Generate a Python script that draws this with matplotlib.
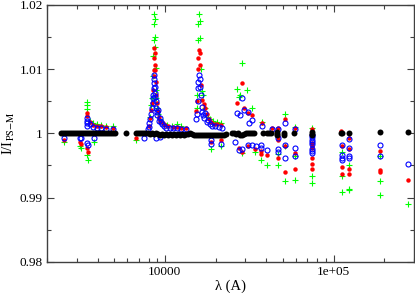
import matplotlib
matplotlib.use("Agg")
import matplotlib.pyplot as plt
from matplotlib.ticker import FixedLocator, FixedFormatter, LogLocator, NullFormatter, MultipleLocator

plt.rcParams['font.family'] = ['Liberation Serif', 'DejaVu Serif']
plt.rcParams['mathtext.fontset'] = 'stix'

# wavelength (A) and intensity ratio for each series
black_lam = [
    2415, 2482, 2550, 2621, 2693, 2767, 2844, 2922, 3003, 3086, 3171, 3259, 3349, 3441,
    3536, 3634, 3734, 3838, 3944, 4053, 4165, 4280, 4398, 4519, 4644, 4773, 4905, 5040,
    5855,
    6710, 6895, 7086, 7282, 7483, 7690, 7902, 8121, 8345, 8576, 8813, 9056, 9306, 9564,
    9828, 10100, 10379, 10666, 10961, 11264, 11575, 11895, 12223, 12561, 12908, 13265,
    13632, 14008, 14395, 14793, 15202, 15622, 16054, 16498, 16954, 17422, 17904, 18399,
    18907, 19430, 19967, 20519, 21086, 21668, 22267, 22883,
    25140, 25830, 26540, 27280, 28030, 28810, 29600, 30420, 31260, 32120, 33010, 33920,
    38380, 40550, 41700, 42790, 46440, 46440, 46440, 51060, 51060, 58500,
    74850, 74850, 74850, 110500, 112500, 123900, 189000, 276600,
]
black_val = [
    1.0000, 1.0000, 1.0000, 1.0000, 1.0000, 1.0000, 1.0000, 1.0000, 1.0000, 1.0000, 1.0000, 1.0000, 1.0000, 1.0000,
    1.0000, 1.0000, 1.0000, 1.0000, 1.0000, 1.0000, 1.0000, 1.0000, 1.0000, 1.0000, 1.0000, 1.0000, 1.0000, 1.0000,
    1.0000,
    1.0000, 1.0000, 1.0000, 1.0000, 1.0000, 1.0000, 1.0000, 0.9999, 1.0000, 0.9999, 1.0000, 0.9999, 0.9998, 0.9999,
    0.9998, 0.9999, 0.9998, 0.9999, 0.9998, 0.9999, 0.9998, 0.9999, 0.9998, 0.9999, 0.9998, 0.9999,
    0.9999, 1.0000, 0.9999, 0.9998, 0.9997, 0.9998, 0.9997, 0.9998, 0.9997, 0.9998, 0.9997, 0.9998,
    0.9997, 0.9998, 0.9997, 0.9998, 0.9997, 0.9998, 0.9998, 0.9999,
    1.0000, 1.0000, 0.9999, 1.0000, 0.9998, 0.9997, 0.9999, 1.0000, 1.0000, 1.0000, 1.0000, 1.0000,
    1.0000, 1.0000, 1.0000, 1.0000, 1.0002, 0.9999, 0.9997, 1.0001, 0.9998, 1.0000,
    1.0002, 0.9999, 0.9997, 1.0000, 1.0000, 1.0000, 1.0002, 1.0002,
]

red_pts = [
    (2515, 0.9990), (3130, 0.9986), (3170, 0.9984), (3440, 1.0031), (3460, 1.0027),
    (3494, 0.9971), (3470, 0.9977), (3580, 1.0018), (3733, 1.0013), (3950, 1.0012),
    (4165, 1.0011), (4459, 1.0010), (4905, 1.0009), (6780, 0.9992),
    (8100, 1.0012), (8200, 1.0024), (8300, 1.0036), (8400, 1.0048), (8480, 1.0068),
    (8560, 1.0090), (8600, 1.0098), (8630, 1.0117), (8660, 1.0133), (8700, 1.0125),
    (8740, 1.0106), (8780, 1.0098), (8820, 1.0080), (8860, 1.0060), (8950, 1.0048),
    (9050, 1.0035), (9200, 1.0026), (9400, 1.0019), (9700, 1.0016), (10000, 1.0013),
    (10500, 1.0011), (11200, 1.0010), (11800, 1.0010), (12500, 1.0009), (13300, 1.0008),
    (15300, 1.0035), (15500, 1.0050), (15700, 1.0100), (15800, 1.0118), (15900, 1.0130),
    (16050, 1.0125), (16250, 1.0106), (16450, 1.0075), (16700, 1.0052), (17000, 1.0045),
    (17400, 1.0040), (17800, 1.0030), (18200, 1.0022), (18800, 1.0018), (19500, 1.0015),
    (20500, 1.0014), (21500, 1.0013), (18640, 0.9987), (21600, 0.9990),
    (26800, 1.0048), (28600, 1.0079), (29400, 1.0039), (31000, 1.0031), (33000, 1.0028),
    (37600, 1.0016), (27500, 0.9977), (28600, 0.9971), (31000, 0.9980), (34000, 0.9975),
    (37300, 0.9972), (37300, 0.9968), (40200, 0.9966),
    (42900, 1.0008), (46700, 1.0008), (46700, 0.9994), (46700, 0.9990), (46700, 0.9961),
    (51200, 1.0023), (51200, 0.9980), (51200, 0.9940), (58700, 1.0009), (58700, 0.9970),
    (58700, 0.9944), (74900, 1.0007), (74900, 0.9985), (74900, 0.9980), (74900, 0.9977),
    (74900, 0.9961), (74900, 0.9952), (74900, 0.9944), (110500, 1.0003), (111500, 0.9980),
    (111500, 0.9948), (111500, 0.9937), (124000, 0.9992), (124000, 0.9975), (124000, 0.9945),
    (124000, 0.9937), (189000, 0.9972), (189000, 0.9943), (189000, 0.9940), (278000, 0.9928),
]

blue_pts = [
    (2515, 0.9993), (3130, 0.9993), (3170, 0.9992), (3440, 1.0024), (3450, 1.0020),
    (3460, 1.0016), (3470, 1.0012), (3494, 0.9982), (3470, 0.9985), (3580, 1.0014),
    (3733, 1.0010), (3790, 0.9993), (3950, 1.0009), (4165, 1.0008), (4459, 1.0007),
    (4905, 1.0007), (7500, 0.9993), (8900, 0.9993), (9300, 0.9994),
    (7900, 1.0006), (8000, 1.0010), (8100, 1.0016), (8200, 1.0022), (8300, 1.0030),
    (8400, 1.0040), (8450, 1.0047), (8500, 1.0055), (8550, 1.0060), (8580, 1.0070),
    (8610, 1.0078), (8640, 1.0084), (8660, 1.0091), (8700, 1.0072), (8740, 1.0063),
    (8780, 1.0057), (8820, 1.0050), (8860, 1.0040), (8920, 1.0034), (9000, 1.0028),
    (9100, 1.0036), (9200, 1.0020), (9300, 1.0024), (9450, 1.0018), (9600, 1.0014),
    (9850, 1.0012), (10200, 1.0009), (10700, 1.0008), (11200, 1.0008), (11800, 1.0008),
    (12500, 1.0007), (13300, 1.0006),
    (15300, 1.0022), (15500, 1.0030), (15650, 1.0050), (15700, 1.0070), (15800, 1.0080),
    (15900, 1.0091), (16050, 1.0085), (16250, 1.0072), (16450, 1.0060), (16550, 1.0033),
    (16700, 1.0041), (16900, 1.0028), (17100, 1.0024), (17400, 1.0031), (17700, 1.0018),
    (18100, 1.0021), (18500, 1.0014), (19000, 1.0012), (19800, 1.0011), (20800, 1.0010),
    (21800, 1.0009), (18640, 0.9990), (18800, 0.9983), (21600, 0.9984),
    (26800, 1.0031), (28000, 1.0028), (28600, 1.0055), (29400, 1.0036), (31000, 1.0034),
    (31500, 1.0016), (33000, 1.0021), (37600, 1.0012),
    (26200, 0.9987), (27500, 0.9974), (28600, 0.9975), (31000, 0.9982), (33000, 0.9982),
    (34500, 0.9980), (37300, 0.9982), (37300, 0.9977), (40200, 0.9974),
    (42900, 1.0006), (46700, 1.0006), (46700, 0.9992), (46700, 0.9975), (46700, 0.9971),
    (51200, 1.0016), (51200, 0.9982), (51200, 0.9961), (58700, 1.0007), (58700, 0.9977),
    (58700, 0.9965), (74900, 0.9997), (74900, 0.9994), (74900, 0.9990), (74900, 0.9987),
    (74900, 0.9983), (74900, 0.9975), (74900, 0.9972), (74900, 0.9969), (111500, 0.9982),
    (111500, 0.9966), (111500, 0.9962), (111500, 0.9959), (124000, 0.9991), (124000, 0.9977),
    (124000, 0.9964), (124000, 0.9962), (189000, 0.9982), (189000, 0.9964), (278000, 0.9953),
]

green_pts = [
    (2515, 0.9987), (3130, 0.9981), (3170, 0.9977), (3440, 1.0049), (3460, 1.0044),
    (3470, 1.0038), (3494, 0.9958), (3470, 0.9967), (3580, 1.0020), (3733, 1.0016),
    (3790, 0.9987), (3950, 1.0014), (4165, 1.0013), (4459, 1.0012), (4905, 1.0011),
    (6780, 0.9990),
    (8150, 1.0025), (8300, 1.0044), (8400, 1.0055), (8480, 1.0090), (8540, 1.0120),
    (8600, 1.0146), (8620, 1.0171), (8640, 1.0186), (8700, 1.0178), (8740, 1.0150),
    (8780, 1.0135), (8800, 1.0102), (8820, 1.0067), (8900, 1.0055), (9000, 1.0040),
    (9150, 1.0030), (9400, 1.0022), (9800, 1.0016), (10300, 1.0013), (11000, 1.0012),
    (11800, 1.0014), (12500, 1.0011),
    (15400, 1.0040), (15600, 1.0060), (15700, 1.0146), (15800, 1.0171), (15900, 1.0186),
    (16050, 1.0175), (16250, 1.0148), (16350, 1.0101), (16550, 1.0066), (16800, 1.0060),
    (17400, 1.0039), (17900, 1.0025), (18400, 1.0022), (19300, 1.0020), (20500, 1.0018),
    (21500, 1.0016), (18640, 0.9975), (21600, 0.9980),
    (26800, 1.0069), (27400, 1.0057), (27700, 1.0060), (28600, 1.0109), (30600, 1.0067),
    (33000, 1.0039), (37600, 1.0018),
    (28600, 0.9970), (34000, 0.9971), (37300, 0.9958), (40200, 0.9951),
    (46700, 0.9968), (46700, 0.9950), (51200, 1.0030), (51200, 0.9980), (51200, 0.9926),
    (58700, 1.0010), (58700, 0.9965), (58700, 0.9928), (74900, 1.0008), (74900, 0.9934),
    (74900, 0.9922), (111500, 0.9971), (111500, 0.9934), (111500, 0.9908), (124000, 0.9951),
    (124000, 0.9914), (124000, 0.9912), (189000, 0.9964), (189000, 0.9925), (189000, 0.9904),
    (278000, 0.9890),
]


def split(pts):
    return [p[0] for p in pts], [p[1] for p in pts]


fig = plt.figure(figsize=(4.15, 2.93), dpi=100)
ax = fig.add_axes([0.1133, 0.1068, 0.8843, 0.8762])

x, y = split(green_pts)
ax.plot(x, y, ls='none', marker='+', ms=4.5, mew=0.8, color='#00ff00', zorder=2)
x, y = split(red_pts)
ax.plot(x, y, ls='none', marker='o', ms=3.2, mew=0, color='#ff0000', zorder=3)
x, y = split(blue_pts)
ax.plot(x, y, ls='none', marker='o', ms=3.6, mew=0.8, mfc='none', mec='#0000ff', zorder=4)
ax.plot(black_lam, black_val, ls='none', marker='o', ms=4.3, mew=0, color='black', zorder=5)

ax.set_xscale('log')
ax.set_xlim(2000, 300000)
ax.set_ylim(0.98, 1.02)

ax.xaxis.set_major_locator(FixedLocator([10000, 100000]))
ax.xaxis.set_major_formatter(FixedFormatter(['10000', '1e+05']))
ax.xaxis.set_minor_locator(LogLocator(base=10, subs=range(2, 10)))
ax.xaxis.set_minor_formatter(NullFormatter())
ax.yaxis.set_major_locator(FixedLocator([0.98, 0.99, 1.0, 1.01, 1.02]))
ax.yaxis.set_major_formatter(FixedFormatter(['0.98', '0.99', '1', '1.01', '1.02']))
ax.yaxis.set_minor_locator(MultipleLocator(0.005))

ax.tick_params(which='both', direction='in', top=True, right=True, colors='#404040',
               labelcolor='black', labelsize=9.5, width=0.8, pad=3)
ax.tick_params(which='major', length=5)
ax.tick_params(which='minor', length=2.6)
for s in ax.spines.values():
    s.set_color('#404040')
    s.set_linewidth(1.0)

ax.set_xlabel('λ (A)', fontsize=10.5, labelpad=1)
ax.set_ylabel(r'I/I$_{\mathrm{PS\!-\!M}}$', fontsize=10.5, labelpad=2)

fig.savefig('out.png', dpi=100)
